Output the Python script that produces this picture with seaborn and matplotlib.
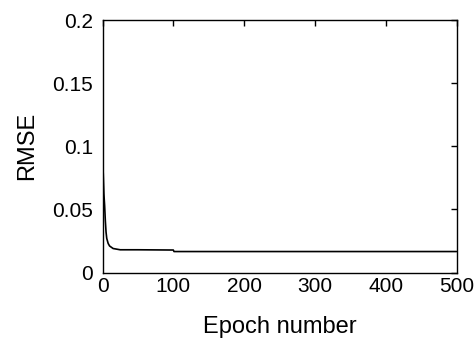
import matplotlib
matplotlib.use("Agg")
import matplotlib.pyplot as plt
import seaborn as sns
import pandas as pd


# Training curve
epochs = [1, 2, 3, 4, 5, 6, 8, 10, 15, 20, 25, 50, 100, 101, 500]
rmse = [0.079, 0.062, 0.053, 0.041, 0.032, 0.027, 0.023, 0.021,
        0.019, 0.0185, 0.018, 0.018, 0.0178, 0.0166, 0.0166]

x_ticks = [0, 100, 200, 300, 400, 500]
y_ticks = [0, 0.05, 0.1, 0.15, 0.2]
y_tick_labels = ["0", "0.05", "0.1", "0.15", "0.2"]

df = pd.DataFrame({"epoch": epochs, "rmse": rmse})


sns.set_style("white")
plt.rcParams["font.family"] = ["Liberation Sans", "DejaVu Sans"]
plt.rcParams["axes.labelcolor"] = "black"
plt.rcParams["text.color"] = "black"

fig = plt.figure(figsize=(4.74, 3.38), dpi=100)
ax = fig.add_axes([102.5 / 474, 1 - 272.5 / 338, 354 / 474, 252.5 / 338])

sns.lineplot(
    data=df,
    x="epoch",
    y="rmse",
    color="black",
    linewidth=1.2,
    ax=ax
)

ax.set_xlim(0, 500)
ax.set_ylim(0, 0.2)

ax.set_xticks(x_ticks)
ax.set_yticks(y_ticks)
ax.set_yticklabels(y_tick_labels)

ax.tick_params(
    direction="in",
    length=4,
    width=1,
    top=True,
    right=True,
    labelsize=15,
    colors="black"
)
ax.tick_params(axis="y", pad=7)
ax.tick_params(axis="x", pad=3)

for spine in ax.spines.values():
    spine.set_visible(True)
    spine.set_color("black")
    spine.set_linewidth(1)

ax.set_xlabel("Epoch number", fontsize=17, labelpad=15, color="black")
ax.set_ylabel("RMSE", fontsize=17, labelpad=10, color="black")

fig.savefig("out.png", dpi=100)
plt.close()
